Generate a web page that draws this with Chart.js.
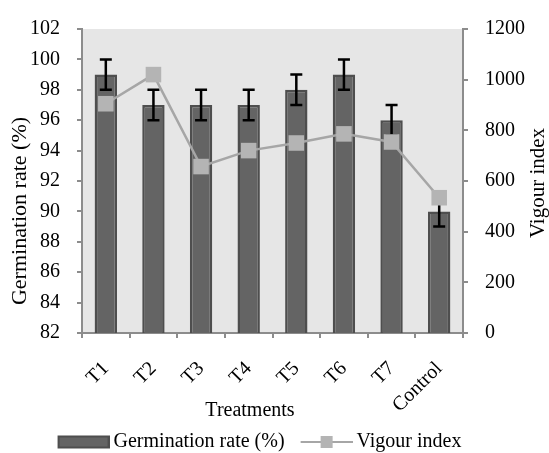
<!DOCTYPE html>
<html><head><meta charset="utf-8">
<script src="https://cdn.jsdelivr.net/npm/chart.js@4/dist/chart.umd.min.js"></script>
<style>html,body{margin:0;padding:0;background:#fff;overflow:hidden}canvas{display:block}</style>
</head><body>
<canvas id="c" width="549" height="453"></canvas>
<script>
// ---- data ----
const categories = ['T1', 'T2', 'T3', 'T4', 'T5', 'T6', 'T7', 'Control'];
const germinationRate = [99, 97, 97, 97, 98, 99, 96, 90];
const germinationErr = [1, 1, 1, 1, 1, 1, 1, 1];
const vigourIndex = [905, 1020, 657, 720, 750, 786, 754, 534];
const leftAxisTicks = [82, 84, 86, 88, 90, 92, 94, 96, 98, 100, 102];
const rightAxisTicks = [0, 200, 400, 600, 800, 1000, 1200];
const seriesNames = ['Germination rate (%)', 'Vigour index'];
const axisTitleTexts = {x: 'Treatments', y: 'Germination rate (%)', y1: 'Vigour index'};

// ---- style ----
const FONT = "'Liberation Serif', 'Times New Roman', serif";
const AXIS_GRAY = '#8c8c8c';

function makeSwatch(kind) {
  const c = document.createElement('canvas');
  c.width = 58; c.height = 16;
  const g = c.getContext('2d');
  if (kind === 'bar') {
    g.fillStyle = '#4e4e4e'; g.fillRect(6, 1.5, 52, 13);
    g.fillStyle = '#646464'; g.fillRect(8, 3.5, 48, 9);
  } else {
    g.strokeStyle = '#a6a6a6'; g.lineWidth = 2;
    g.beginPath(); g.moveTo(6, 8); g.lineTo(58, 8); g.stroke();
    g.fillStyle = '#b4b4b4'; g.fillRect(26, 2, 12, 12);
  }
  return c;
}
const swatches = [makeSwatch('bar'), makeSwatch('line')];

const plotBg = {
  id: 'plotBg',
  beforeDraw(chart) {
    const {ctx, chartArea: a} = chart;
    ctx.save();
    ctx.fillStyle = '#e6e6e6';
    ctx.fillRect(a.left, a.top, a.right - a.left, a.bottom - a.top);
    ctx.restore();
  }
};

const errorBars = {
  id: 'errorBars',
  afterDatasetDraw(chart, args) {
    if (args.index !== 0) return;
    const meta = chart.getDatasetMeta(0);
    const ys = chart.scales.y;
    const ctx = chart.ctx;
    ctx.save();
    ctx.strokeStyle = '#000';
    ctx.lineWidth = 2.5;
    meta.data.forEach((bar, i) => {
      const v = germinationRate[i], e = germinationErr[i];
      const x = bar.x;
      const yHi = ys.getPixelForValue(v + e), yLo = ys.getPixelForValue(v - e);
      ctx.beginPath();
      ctx.moveTo(x, yHi); ctx.lineTo(x, yLo);
      ctx.moveTo(x - 6, yHi); ctx.lineTo(x + 6, yHi);
      ctx.moveTo(x - 6, yLo); ctx.lineTo(x + 6, yLo);
      ctx.stroke();
    });
    ctx.restore();
  }
};

const axisTitles = {
  id: 'axisTitles',
  afterDraw(chart) {
    const ctx = chart.ctx, a = chart.chartArea;
    const midY = (a.top + a.bottom) / 2;
    ctx.save();
    ctx.fillStyle = '#000';
    ctx.textAlign = 'center';
    ctx.textBaseline = 'middle';
    ctx.font = `22px ${FONT}`;
    ctx.save(); ctx.translate(20, midY + 30); ctx.rotate(-Math.PI / 2);
    ctx.fillText(axisTitleTexts.y, 0, 0); ctx.restore();
    ctx.font = `21px ${FONT}`;
    ctx.save(); ctx.translate(538, midY + 2); ctx.rotate(-Math.PI / 2);
    ctx.fillText(axisTitleTexts.y1, 0, 0); ctx.restore();
    ctx.font = `20px ${FONT}`;
    ctx.fillText(axisTitleTexts.x, 250, 411);
    ctx.restore();
  }
};

const gridOpts = {drawOnChartArea: false, drawTicks: true, tickLength: 5, color: AXIS_GRAY, lineWidth: 2};
const borderOpts = {display: true, color: AXIS_GRAY, width: 2};
const tickFont = {family: FONT, size: 20};

new Chart(document.getElementById('c'), {
  type: 'bar',
  data: {
    labels: categories,
    datasets: [
      {
        type: 'bar', label: seriesNames[0], data: germinationRate, yAxisID: 'y', order: 2,
        backgroundColor: '#646464', borderColor: '#4e4e4e', borderWidth: 2.5,
        barPercentage: 0.47, categoryPercentage: 1
      },
      {
        type: 'line', label: seriesNames[1], data: vigourIndex, yAxisID: 'y1', order: 1,
        borderColor: '#a6a6a6', borderWidth: 2.5, tension: 0,
        pointStyle: 'rect', pointRadius: 11, pointBackgroundColor: '#b4b4b4', pointBorderWidth: 0
      }
    ]
  },
  options: {
    responsive: false, animation: false, events: [],
    devicePixelRatio: 1,
    layout: {padding: {top: 23, left: 0, right: 0, bottom: -9}},
    plugins: {
      tooltip: {enabled: false},
      legend: {
        position: 'bottom',
        labels: {
          usePointStyle: true, pointStyleWidth: 46, padding: 16, color: '#000',
          font: {family: FONT, size: 20},
          sort: (a, b) => a.datasetIndex - b.datasetIndex,
          generateLabels(chart) {
            const items = Chart.defaults.plugins.legend.labels.generateLabels(chart);
            items.forEach(it => {
              it.pointStyle = swatches[it.datasetIndex];
              // trailing blank space keeps the legend block left of centre, as in the original
              if (it.datasetIndex === 1) it.text = it.text + '      ';
            });
            return items;
          }
        }
      }
    },
    scales: {
      x: {
        type: 'category', offset: true,
        grid: Object.assign({offset: true}, gridOpts),
        border: borderOpts,
        ticks: {autoSkip: false, minRotation: 45, maxRotation: 45, padding: 19, color: '#000', font: tickFont},
        afterFit(s) { s.height = 83; }
      },
      y: {
        position: 'left',
        min: leftAxisTicks[0], max: leftAxisTicks[leftAxisTicks.length - 1],
        grid: gridOpts, border: borderOpts,
        ticks: {stepSize: leftAxisTicks[1] - leftAxisTicks[0], padding: 17, color: '#000', font: tickFont,
                callback: v => String(v)},
        afterFit(s) { s.width = 82; }
      },
      y1: {
        position: 'right',
        min: rightAxisTicks[0], max: rightAxisTicks[rightAxisTicks.length - 1],
        grid: gridOpts, border: borderOpts,
        ticks: {stepSize: rightAxisTicks[1] - rightAxisTicks[0], padding: 17, color: '#000', font: tickFont,
                callback: v => String(v)},
        afterFit(s) { s.width = 86; }
      }
    }
  },
  plugins: [plotBg, errorBars, axisTitles]
});
</script>
</body></html>
